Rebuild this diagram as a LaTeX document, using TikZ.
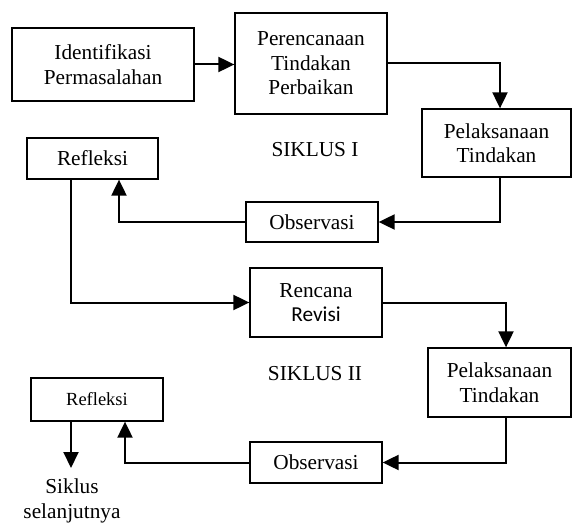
\documentclass[tikz,border=0pt]{standalone}
\usepackage{fontspec}
\setmainfont{Liberation Serif}
\newfontfamily\carl{Carlito}
\usetikzlibrary{arrows.meta}
\begin{document}
\begin{tikzpicture}[x=1pt,y=-1pt,
  box/.style={draw,line width=1.3pt,rectangle,inner sep=0pt,align=center,font=\fontsize{21.3}{24.5}\selectfont},
  lbl/.style={align=center,inner sep=0pt,font=\fontsize{21.3}{24.5}\selectfont},
  arr/.style={line width=2pt,-{Triangle[length=16pt,width=15pt]}}]
\useasboundingbox (0,0) rectangle (572,526);
\node[box,minimum width=182pt,minimum height=73pt] (b1) at (103,64.5) {Identifikasi\\Permasalahan};
\node[box,minimum width=152pt,minimum height=101pt] (b2) at (311,63.5) {Perencanaan\\Tindakan\\Perbaikan};
\node[box,minimum width=149pt,minimum height=68pt] (b3) at (496.5,143) {Pelaksanaan\\Tindakan};
\node[box,minimum width=131pt,minimum height=41pt] (r1) at (92.5,158.5) {Refleksi};
\node[box,minimum width=132pt,minimum height=40pt] (o1) at (312,222) {Observasi};
\node[lbl] (s1) at (315,150) {SIKLUS I};
\node[box,minimum width=132pt,minimum height=69pt] (ren) at (316,302.5) {Rencana\\{\carl Revisi}};
\node[box,minimum width=143pt,minimum height=69pt] (p2) at (499.5,382.5) {Pelaksanaan\\Tindakan};
\node[lbl] (s2) at (315,374) {SIKLUS II};
\node[box,minimum width=132pt,minimum height=43pt,font=\fontsize{18.5}{22}\selectfont] (r2) at (97,399.5) {Refleksi};
\node[box,minimum width=132pt,minimum height=41pt] (o2) at (316,462.5) {Observasi};
\node[lbl,anchor=north] (nx) at (72,479) {Siklus\\selanjutnya};
\draw[arr] (b1.east) -- (b1.east -| b2.west);
\draw[arr] (b2.east) -| ([xshift=3.5pt]b3.north);
\draw[arr] ([xshift=3.5pt]b3.south) |- (o1.east);
\draw[arr] (o1.west) -| ([xshift=26.5pt]r1.south);
\draw[arr] ([xshift=-21.5pt]r1.south) |- (ren.west);
\draw[arr] (ren.east) -| ([xshift=6.5pt]p2.north);
\draw[arr] ([xshift=6.5pt]p2.south) |- (o2.east);
\draw[arr] (o2.west) -| ([xshift=28pt]r2.south);
\coordinate (nt) at (71,468);
\draw[arr] ([xshift=-26pt]r2.south) -- (nt);
\end{tikzpicture}
\end{document}
